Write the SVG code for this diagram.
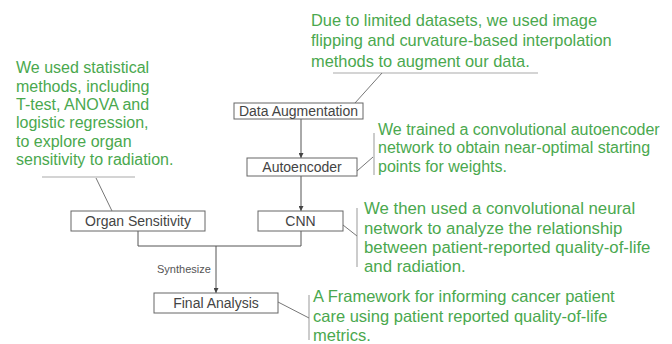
<svg xmlns="http://www.w3.org/2000/svg" width="672" height="344" viewBox="0 0 672 344">
  <defs>
    <marker id="arrow" viewBox="0 0 6 6" refX="6" refY="3" markerWidth="5" markerHeight="5" orient="auto" markerUnits="userSpaceOnUse">
      <path d="M0,0 L6,3 L0,6 z" fill="#444"/>
    </marker>
    <style>
      .box { fill: #fff; stroke: #666; stroke-width: 1; }
      .label { font-family: "Liberation Sans", Arial, sans-serif; font-size: 14px; fill: #444; text-anchor: middle; }
      .note { font-family: "Liberation Sans", Arial, sans-serif; font-size: 16px; fill: #4aa84e; }
      .wide { font-size: 16.8px; }
      .flow { fill: none; stroke: #555; stroke-width: 1; }
      .lead { fill: none; stroke: #777; stroke-width: 1; }
      .bar { fill: none; stroke: #aaa; stroke-width: 1.2; }
      .small { font-family: "Liberation Sans", Arial, sans-serif; font-size: 11px; fill: #555; }
    </style>
  </defs>
  <rect width="672" height="344" fill="#fff"/>

  <!-- connectors -->
  <g id="connectors">
    <line class="flow" x1="301" y1="119" x2="301" y2="158" marker-end="url(#arrow)"/>
    <line class="flow" x1="301" y1="176" x2="301" y2="211" marker-end="url(#arrow)"/>
    <path class="flow" d="M138,231 V246 H301 V231"/>
    <line class="flow" x1="216" y1="246" x2="216" y2="293" marker-end="url(#arrow)"/>
    <text class="small" x="157" y="273">Synthesize</text>
  </g>

  <!-- annotation leaders -->
  <g id="leaders">
    <line class="bar" x1="333" y1="73" x2="538" y2="73"/>
    <line class="lead" x1="382" y1="73" x2="355" y2="103"/>
    <line class="bar" x1="374" y1="133" x2="374" y2="175"/>
    <line class="lead" x1="357" y1="171" x2="373" y2="157"/>
    <line class="bar" x1="357" y1="208" x2="357" y2="267"/>
    <line class="lead" x1="343" y1="225" x2="357" y2="236"/>
    <line class="bar" x1="42" y1="177" x2="135" y2="177"/>
    <line class="lead" x1="96" y1="178" x2="112" y2="211"/>
    <line class="bar" x1="309" y1="295" x2="309" y2="340"/>
    <line class="lead" x1="278" y1="302" x2="309" y2="318"/>
  </g>

  <g id="data-augmentation">
    <rect class="box" x="234" y="103" width="129" height="16"/>
    <text class="label" x="298.5" y="116">Data Augmentation</text>
  </g>
  <g id="autoencoder">
    <rect class="box" x="247" y="158" width="110" height="18"/>
    <text class="label" x="302" y="172">Autoencoder</text>
  </g>
  <g id="cnn">
    <rect class="box" x="258" y="211" width="85" height="20"/>
    <text class="label" x="300.5" y="226">CNN</text>
  </g>
  <g id="organ-sensitivity">
    <rect class="box" x="71" y="211" width="134" height="20"/>
    <text class="label" x="138" y="226">Organ Sensitivity</text>
  </g>
  <g id="final-analysis">
    <rect class="box" x="154" y="293" width="124" height="20"/>
    <text class="label" x="216" y="308">Final Analysis</text>
  </g>

  <!-- notes -->
  <g id="note-augmentation" class="note" style="font-size:16.4px">
    <text x="311" y="26">Due to limited datasets, we used image</text>
    <text x="311" y="46">flipping and curvature-based interpolation</text>
    <text x="311" y="67">methods to augment our data.</text>
  </g>
  <g id="note-autoencoder">
    <text class="note" x="378" y="135">We trained a convolutional autoencoder</text>
    <text class="note" x="378" y="153">network to obtain near-optimal starting</text>
    <text class="note" x="378" y="172">points for weights.</text>
  </g>
  <g id="note-cnn" class="note wide">
    <text x="364" y="214">We then used a convolutional neural</text>
    <text x="364" y="234">network to analyze the relationship</text>
    <text x="364" y="253">between patient-reported quality-of-life</text>
    <text x="364" y="272">and radiation.</text>
  </g>
  <g id="note-organ">
    <text class="note" x="16" y="73">We used statistical</text>
    <text class="note" x="16" y="92">methods, including</text>
    <text class="note" x="16" y="110">T-test, ANOVA and</text>
    <text class="note" x="16" y="128">logistic regression,</text>
    <text class="note" x="16" y="147">to explore organ</text>
    <text class="note" x="16" y="165">sensitivity to radiation.</text>
  </g>
  <g id="note-final" class="note" style="font-size:16.5px">
    <text x="313" y="302">A Framework for informing cancer patient</text>
    <text x="313" y="322">care using patient reported quality-of-life</text>
    <text x="313" y="341">metrics.</text>
  </g>
</svg>
